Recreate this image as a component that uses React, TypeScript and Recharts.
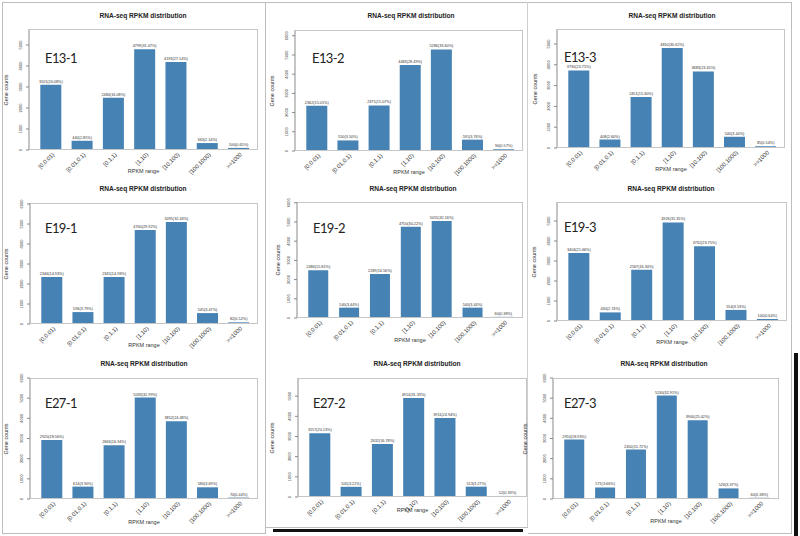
import React from 'react';
import { BarChart, Bar, XAxis, YAxis, LabelList } from 'recharts';

// RPKM bins shared by all nine samples
const rangeLabels = ['[0,0.01)', '[0.01,0.1)', '[0.1,1)', '[1,10)', '[10,100)', '[100,1000)', '>=1000'];

// gene counts per bin
const e13_1 = [3101, 440, 2484, 4799, 4193, 330, 100];
const e13_2 = [2362, 550, 2371, 4483, 5286, 591, 90];
const e13_3 = [3730, 408, 2451, 4810, 3683, 540, 85];
const e19_1 = [2346, 596, 2345, 4700, 5095, 545, 82];
const e19_2 = [2486, 540, 2289, 4750, 5055, 540, 60];
const e19_3 = [3404, 430, 2567, 4926, 3732, 554, 100];
const e27_1 = [2920, 614, 2666, 5033, 3852, 580, 70];
const e27_2 = [3157, 505, 2632, 4914, 3911, 513, 52];
const e27_3 = [2950, 571, 2450, 5130, 3900, 526, 60];

const ticks5 = [0, 1000, 2000, 3000, 4000, 5000];
const ticks6 = [0, 1000, 2000, 3000, 4000, 5000, 6000];

const TITLE = 'RNA-seq RPKM distribution';
const BAR = '#4682b4';
const SANS = '"Liberation Sans", Arial, sans-serif';

// box = [left, top, right, zero line] of the plot frame on the page
const panels = [
  { name: 'E13-1', counts: e13_1, yMax: 5760, ticks: ticks5, box: [29, 29, 258, 150], title: [143, 16], tag: [45, 58], yLab: 7, xLab: 172 },
  { name: 'E13-2', counts: e13_2, yMax: 6300, ticks: ticks6, box: [295, 30, 523, 151], title: [411, 16], tag: [312, 58], yLab: 273, xLab: 173 },
  { name: 'E13-3', counts: e13_3, yMax: 5720, ticks: ticks5, box: [557, 29, 785, 148], title: [672, 16], tag: [564, 57], yLab: 536, xLab: 170 },
  { name: 'E19-1', counts: e19_1, yMax: 6050, ticks: ticks6, box: [30, 203, 258, 324], title: [143, 189], tag: [45, 228], yLab: 7, xLab: 346 },
  { name: 'E19-2', counts: e19_2, yMax: 6040, ticks: ticks6, box: [297, 202, 523, 318], title: [413, 189], tag: [313, 228], yLab: 279, xLab: 341 },
  { name: 'E19-3', counts: e19_3, yMax: 5950, ticks: ticks5, box: [557, 202, 787, 321], title: [671, 189], tag: [564, 227], yLab: 535, xLab: 343 },
  { name: 'E27-1', counts: e27_1, yMax: 6000, ticks: ticks6, box: [30, 378, 258, 499], title: [144, 364], tag: [45, 403], yLab: 7, xLab: 523 },
  { name: 'E27-2', counts: e27_2, yMax: 5900, ticks: ticks5, box: [298, 378, 527, 497], title: [417, 364], tag: [313, 403], yLab: 273, xLab: 511 },
  { name: 'E27-3', counts: e27_3, yMax: 6000, ticks: ticks6, box: [553, 378, 779, 499], title: [664, 364], tag: [564, 403], yLab: 526, xLab: 522 },
];

const Txt = ({ x, y, size, bold = false, rotate = 0, start = false, family = SANS, color = '#222', spacing = 0, children }: any) => (
  <div
    style={{
      position: 'absolute',
      left: x,
      top: y,
      transform: `translate(${start ? '0' : '-50%'}, -50%) rotate(${rotate}deg)`,
      fontFamily: family,
      fontSize: size,
      fontWeight: bold ? 700 : 400,
      letterSpacing: spacing,
      color,
      lineHeight: 1,
      whiteSpace: 'nowrap',
    }}
  >
    {children}
  </div>
);

const YTick = (props: any) => {
  const { x, y, payload } = props;
  return (
    <text x={x} y={y} transform={`rotate(-90 ${x} ${y})`} textAnchor="middle" fontSize={4} fill="#333" fontFamily={SANS}>
      {payload.value}
    </text>
  );
};

const XTick = (props: any) => {
  const { x, y, payload } = props;
  const tx = x + 4;
  const ty = y + 2;
  return (
    <text x={tx} y={ty} transform={`rotate(-45 ${tx} ${ty})`} textAnchor="end" fontSize={5.8} fill="#333" fontFamily={SANS}>
      {payload.value}
    </text>
  );
};

const Panel = ({ p }: any) => {
  const [l, t, r, z] = p.box;
  const total = p.counts.reduce((a: number, b: number) => a + b, 0);
  const data = rangeLabels.map((range, i) => ({
    range,
    count: p.counts[i],
    text: `${p.counts[i]}(${((p.counts[i] / total) * 100).toFixed(2)}%)`,
  }));

  return (
    <>
      <div style={{ position: 'absolute', left: l - 30, top: t - 6 }}>
        <BarChart
          width={r - l + 36}
          height={z - t + 36}
          data={data}
          margin={{ top: 6, right: 6, left: 6, bottom: 10 }}
          barCategoryGap="17%"
        >
          <XAxis
            dataKey="range"
            height={20}
            interval={0}
            axisLine={false}
            tickLine={false}
            tickSize={0}
            tickMargin={3}
            padding={{ left: 6, right: 4 }}
            tick={<XTick />}
          />
          <YAxis
            width={24}
            type="number"
            domain={[0, p.yMax]}
            ticks={p.ticks}
            interval={0}
            allowDataOverflow
            axisLine={{ stroke: '#888' }}
            tickLine={{ stroke: '#888' }}
            tickSize={3}
            tickMargin={4}
            tick={<YTick />}
          />
          <Bar dataKey="count" fill={BAR} isAnimationActive={false}>
            <LabelList dataKey="text" position="top" offset={2} fontSize={3.8} fill="#333" fontFamily={SANS} />
          </Bar>
        </BarChart>
      </div>
      <div
        style={{
          position: 'absolute',
          left: l,
          top: t,
          width: r - l,
          height: z - t,
          border: '1px solid #c6c6c6',
          boxSizing: 'border-box',
        }}
      />
      <Txt x={p.title[0]} y={p.title[1]} size={6.6} bold>
        {TITLE}
      </Txt>
      <Txt x={p.tag[0]} y={p.tag[1]} size={13} start family="Lato, sans-serif" spacing={-0.6}>
        {p.name}
      </Txt>
      <Txt x={p.yLab} y={(t + z) / 2} size={5.5} rotate={-90} color="#333">
        Gene counts
      </Txt>
      <Txt x={(l + r) / 2} y={p.xLab} size={5.5} color="#333">
        RPKM range
      </Txt>
    </>
  );
};

const line = (left: number, top: number, width: number, height: number, color: string) => (
  <div style={{ position: 'absolute', left, top, width, height, background: color }} />
);

export default function App() {
  return (
    <div style={{ position: 'absolute', left: 0, top: 0, width: 800, height: 536, background: '#fff', overflow: 'hidden' }}>
      {/* frames of the pasted panels */}
      {line(2, 2, 790, 1, '#bdbdbd')}
      {line(2, 2, 1, 532, '#bdbdbd')}
      {line(265, 2, 1, 532, '#bdbdbd')}
      {line(527, 2, 1, 526, '#cfcfcf')}
      {line(791, 2, 1, 532, '#bdbdbd')}
      {line(2, 533, 264, 1, '#bdbdbd')}
      {line(266, 527, 262, 1, '#bdbdbd')}
      {line(528, 533, 264, 1, '#bdbdbd')}
      {line(273, 529, 250, 3, '#111')}
      {line(794, 353, 4, 183, '#111')}
      {panels.map((p) => (
        <Panel key={p.name} p={p} />
      ))}
    </div>
  );
}
